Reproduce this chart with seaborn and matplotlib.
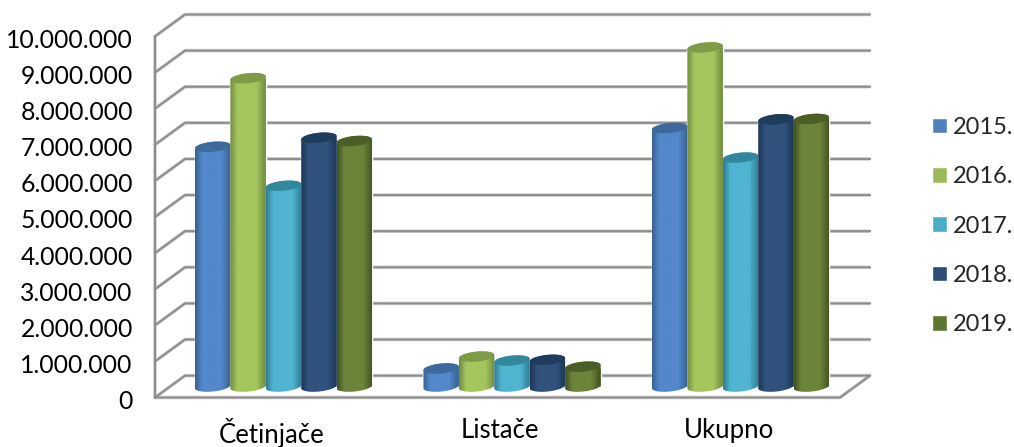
import matplotlib
matplotlib.use('Agg')
import matplotlib.pyplot as plt
from matplotlib.colors import LinearSegmentedColormap
from matplotlib.patches import Polygon
import seaborn as sns
import pandas as pd
import numpy as np

categories = ["Četinjače", "Listače", "Ukupno"]
years = ["2015.", "2016.", "2017.", "2018.", "2019."]
values_2015 = [6640000, 500000, 7160000]
values_2016 = [8540000, 830000, 9390000]
values_2017 = [5560000, 720000, 6340000]
values_2018 = [6890000, 740000, 7400000]
values_2019 = [6800000, 550000, 7410000]
y_ticks = [0, 1000000, 2000000, 3000000, 4000000, 5000000,
           6000000, 7000000, 8000000, 9000000, 10000000]

# body colour, shaded edge colour, top cap colour
bar_colors = ["#4f81bd", "#9bbb59", "#4bacc6", "#2c4d75", "#5f7530"]
edge_colors = ["#37608f", "#6f8a3e", "#30798f", "#1c3555", "#3f5020"]
mid_colors = ["#5388cb", "#a5c65e", "#4fb5d0", "#30527c", "#6b843a"]
top_colors = ["#3d6a9b", "#7e9c48", "#32879c", "#1f3c5e", "#4a5e26"]

PX_PER_UNIT = 36.3 / 1e6   # vertical pixels per unit of value
PX_PER_CAT = 228.5         # horizontal pixels per category
DEPTH_Y = 11 / PX_PER_UNIT # half of the wall depth, in value units
DEPTH_X = 30 / PX_PER_CAT

df = pd.DataFrame({
    "kategorija": categories * 5,
    "godina": np.repeat(years, 3),
    "vrijednost": values_2015 + values_2016 + values_2017 + values_2018 + values_2019,
})

sns.set_style("white")
plt.rcParams["font.family"] = ["Lato", "DejaVu Sans"]

W, H = 1014, 447
fig = plt.figure(figsize=(W / 100, H / 100), dpi=100)
ax = fig.add_axes([155 / W, 1 - 399.5 / H, (870 - 155) / W, (399 - 14) / H])

sns.barplot(data=df, x="kategorija", y="vrijednost", hue="godina",
            order=categories, hue_order=years, palette=bar_colors,
            width=0.775, gap=0, saturation=1, errorbar=None, ax=ax, zorder=3)

x_left = (155 - 283.5) / PX_PER_CAT
x_right = (870 - 283.5) / PX_PER_CAT
y_low = -DEPTH_Y
y_high = 10000000 + DEPTH_Y


def wall_line(xs, ys):
    ax.plot(xs, ys, color="#d2d2d2", lw=2.6, zorder=1, clip_on=False, solid_capstyle="butt")
    ax.plot(xs, ys, color="#8e8e8e", lw=1.5, zorder=2, clip_on=False, solid_capstyle="projecting")


# perspective back wall, side wall and floor
for v in y_ticks:
    wall_line([x_left, x_left + DEPTH_X, x_right],
              [v - DEPTH_Y, v + DEPTH_Y, v + DEPTH_Y])
wall_line([x_left, x_left], [-DEPTH_Y, 10000000 - DEPTH_Y])
wall_line([x_left, x_right - DEPTH_X, x_right], [-DEPTH_Y, -DEPTH_Y, DEPTH_Y])

# cylinders: shaded body and cap on top of each seaborn bar
t = np.linspace(0, 2 * np.pi, 80)
cap_h = 5 / PX_PER_UNIT
tilt = 1.7 / PX_PER_UNIT
z = 4
for i, container in enumerate(ax.containers):
    cmap = LinearSegmentedColormap.from_list(
        "c", [edge_colors[i], mid_colors[i], mid_colors[i], edge_colors[i]])
    for bar in container:
        x0, w, h = bar.get_x(), bar.get_width(), bar.get_height()
        cx = x0 + w / 2
        ex = np.cos(t)
        ey = cap_h * np.sin(t) + tilt * ex
        # outline of the side: lower half of the base and upper half of the top
        low = t[t >= np.pi]
        high = t[t <= np.pi]
        outline_x = np.r_[cx + w / 2 * np.cos(low), cx + w / 2 * np.cos(high)]
        outline_y = np.r_[cap_h * np.sin(low) + tilt * np.cos(low),
                          h + cap_h * np.sin(high) + tilt * np.cos(high)]
        body = Polygon(np.c_[outline_x, outline_y], closed=True, fc="none", ec="none",
                       transform=ax.transData)
        ax.add_patch(body)
        grad = np.interp(np.linspace(0, 1, 256), [0, 0.3, 0.6, 1], [0, 0.5, 0.5, 1])
        im = ax.imshow(grad[None, :], cmap=cmap, aspect="auto", vmin=0, vmax=1,
                       extent=(x0, x0 + w, -cap_h - tilt, h + cap_h + tilt),
                       interpolation="bilinear", zorder=z)
        im.set_clip_path(body)
        ax.add_patch(Polygon(np.c_[cx + w / 2 * ex, h + ey], closed=True,
                             fc=top_colors[i], ec="none", zorder=z + 0.5))
        z += 1

ax.set_xlim(x_left, x_right)
ax.set_ylim(y_low, y_high)

# labels sit 2 px under the front wall marks
ax.set_yticks([v - DEPTH_Y - 2 / PX_PER_UNIT for v in y_ticks])
ax.set_yticklabels([f"{v:,}".replace(",", ".") for v in y_ticks], fontsize=17.8)
ax.set_xticks([i - 12 / PX_PER_CAT for i in range(len(categories))])
ax.set_xticklabels(categories, fontsize=18.5)
ax.tick_params(axis="y", length=0, pad=16, labelcolor="black")
ax.tick_params(axis="x", length=0, pad=13.5, labelcolor="black")
ax.set_xlabel("")
ax.set_ylabel("")
sns.despine(ax=ax, left=True, bottom=True)
ax.patch.set_alpha(0)

handles, labels = ax.get_legend_handles_labels()
ax.legend(handles, labels, loc="center left", frameon=False,
          bbox_to_anchor=(932 / W, 1 - 226 / H), bbox_transform=fig.transFigure,
          fontsize=17, handlelength=0.635, handleheight=0.635, handletextpad=0.25,
          labelspacing=1.2, borderpad=0, borderaxespad=0)

fig.savefig("out.png", dpi=100)
plt.close()
